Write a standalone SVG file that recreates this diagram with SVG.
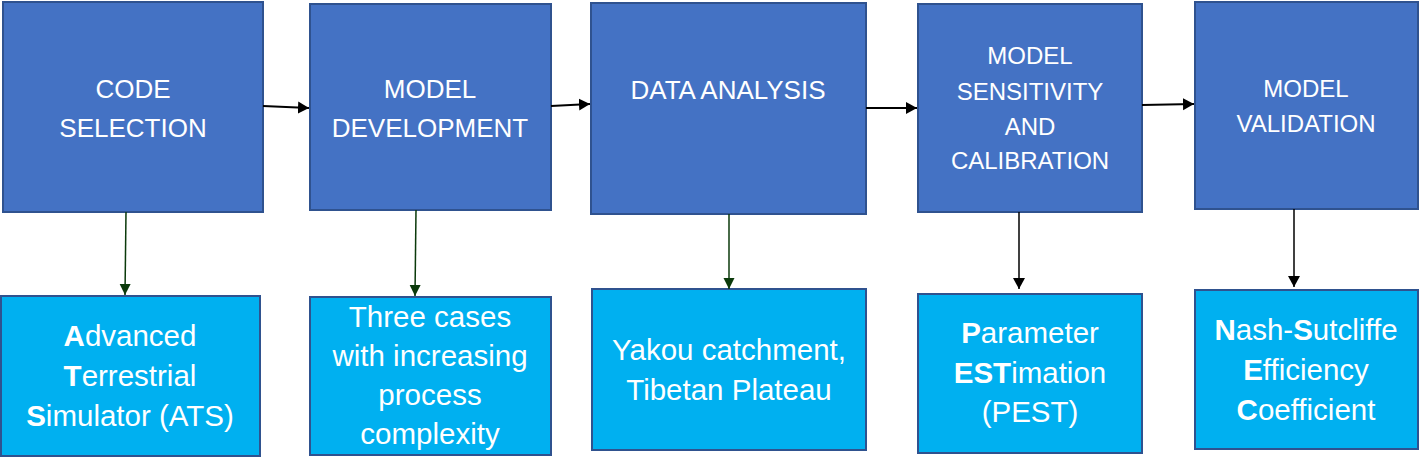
<svg xmlns="http://www.w3.org/2000/svg" width="1421" height="476" viewBox="0 0 1421 476">
<style>
.top{fill:#4472C4;stroke:#2F528F;stroke-width:2}
.bot{fill:#00B0F0;stroke:#2F528F;stroke-width:2}
.t1{font-family:"Liberation Sans",Arial,sans-serif;font-size:26px;fill:#fff;text-anchor:middle}
.t2{font-family:"Liberation Sans",Arial,sans-serif;font-size:24px;fill:#fff;text-anchor:middle}
.tb{font-family:"Liberation Sans",Arial,sans-serif;font-size:29.5px;fill:#fff;text-anchor:middle}
.b{font-weight:bold}
.ah{stroke:#000;stroke-width:2;fill:none}
.av{stroke:#0B3A0B;stroke-width:1.5;fill:none}
.ak{stroke:#000;stroke-width:1.5;fill:none}
</style>
<defs>
<marker id="mk" markerUnits="userSpaceOnUse" markerWidth="13" markerHeight="13" refX="11" refY="6.5" orient="auto">
<path d="M0,0.5 L11,6.5 L0,12.5 Z" fill="#000"/>
</marker>
<marker id="mg" markerUnits="userSpaceOnUse" markerWidth="13" markerHeight="13" refX="11" refY="6.5" orient="auto">
<path d="M0,1 L11,6.5 L0,12 Z" fill="#0B3A0B"/>
</marker>
</defs>
<rect width="1421" height="476" fill="#fff"/>
<g id="n1"><rect class="top" x="3" y="2" width="260" height="210"/>
<text class="t1" x="133" y="98">CODE</text><text class="t1" x="133" y="137">SELECTION</text></g>
<g id="n2"><rect class="top" x="310" y="4" width="241" height="206"/>
<text class="t1" x="430" y="98">MODEL</text><text class="t1" x="430" y="137">DEVELOPMENT</text></g>
<g id="n3"><rect class="top" x="591" y="3" width="275" height="211"/>
<text class="t1" x="728" y="99">DATA ANALYSIS</text></g>
<g id="n4"><rect class="top" x="918" y="4" width="224" height="208"/>
<text class="t2" x="1030" y="64">MODEL</text><text class="t2" x="1030" y="100">SENSITIVITY</text><text class="t2" x="1030" y="135">AND</text><text class="t2" x="1030" y="169">CALIBRATION</text></g>
<g id="n5"><rect class="top" x="1195" y="2" width="223" height="207"/>
<text class="t2" x="1306" y="97">MODEL</text><text class="t2" x="1306" y="132">VALIDATION</text></g>
<g id="b1"><rect class="bot" x="1" y="296" width="259" height="160"/>
<text class="tb" x="130" y="346"><tspan class="b">A</tspan>dvanced</text>
<text class="tb" x="130" y="386"><tspan class="b">T</tspan>errestrial</text>
<text class="tb" x="130" y="426"><tspan class="b">S</tspan>imulator (ATS)</text></g>
<g id="b2"><rect class="bot" x="310" y="297" width="241" height="158"/>
<text class="tb" x="430" y="327">Three cases</text>
<text class="tb" x="430" y="366">with increasing</text>
<text class="tb" x="430" y="405">process</text>
<text class="tb" x="430" y="444">complexity</text></g>
<g id="b3"><rect class="bot" x="592" y="289" width="274" height="161"/>
<text class="tb" x="729" y="360">Yakou catchment,</text>
<text class="tb" x="729" y="400">Tibetan Plateau</text></g>
<g id="b4"><rect class="bot" x="918" y="294" width="224" height="159"/>
<text class="tb" x="1030" y="343"><tspan class="b">P</tspan>arameter</text>
<text class="tb" x="1030" y="383"><tspan class="b">EST</tspan>imation</text>
<text class="tb" x="1030" y="422">(PEST)</text></g>
<g id="b5"><rect class="bot" x="1195" y="290" width="223" height="159"/>
<text class="tb" x="1306" y="340"><tspan class="b">N</tspan>ash-<tspan class="b">S</tspan>utcliffe</text>
<text class="tb" x="1306" y="380"><tspan class="b">E</tspan>fficiency</text>
<text class="tb" x="1306" y="420"><tspan class="b">C</tspan>oefficient</text></g>
<g id="connectors">
<path class="ah" d="M263,106 L309,108" marker-end="url(#mk)"/>
<path class="ah" d="M551,106 L590,104" marker-end="url(#mk)"/>
<path class="ah" d="M866,108 L917,108" marker-end="url(#mk)"/>
<path class="ah" d="M1142,105 L1194,104" marker-end="url(#mk)"/>
<path class="av" d="M126,212 L125,295" marker-end="url(#mg)"/>
<path class="av" d="M416,210 L415,296" marker-end="url(#mg)"/>
<path class="av" d="M729,214 L729,289" marker-end="url(#mg)"/>
<path class="ak" d="M1019,212 L1019,289" marker-end="url(#mk)"/>
<path class="ak" d="M1294,209 L1294,287" marker-end="url(#mk)"/>
</g>
</svg>
